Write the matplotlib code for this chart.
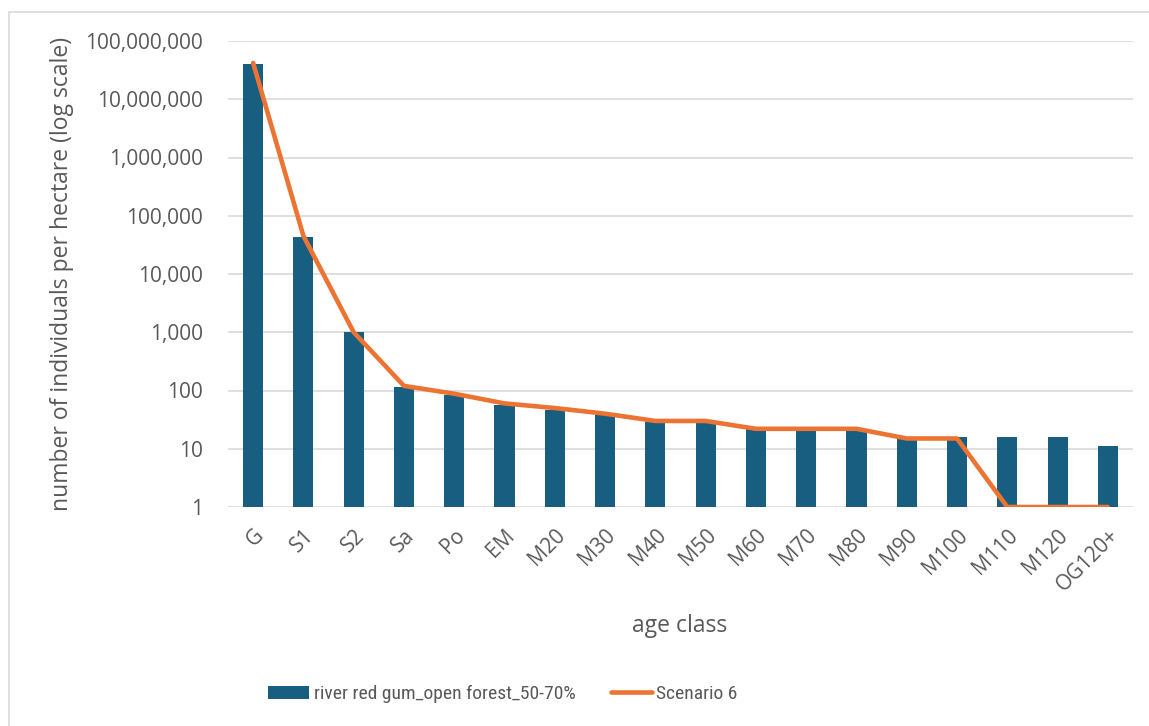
import matplotlib
matplotlib.use("Agg")
import matplotlib.pyplot as plt
from matplotlib import font_manager
from matplotlib.patches import Rectangle
from matplotlib.ticker import FuncFormatter, NullLocator

age_classes = ["G", "S1", "S2", "Sa", "Po", "EM", "M20", "M30", "M40", "M50",
               "M60", "M70", "M80", "M90", "M100", "M110", "M120", "OG120+"]
density = [40000000, 44000, 1000, 116, 82, 56, 45, 37, 28, 28,
           21, 21, 21, 15, 15, 15, 15, 10]
scenario_6 = [42000000, 45000, 1000, 120, 88, 60, 50, 40, 30, 30,
              22, 22, 22, 15, 15, 1, 1, 1]
y_ticks = [1, 10, 100, 1000, 10000, 100000, 1000000, 10000000, 100000000]

BAR_COLOR = "#175e80"
LINE_COLOR = "#ec7332"
TEXT_COLOR = "#595959"
GRID_COLOR = "#d9d9d9"
BASE_FONT = ["Open Sans", "DejaVu Sans"]

installed = {f.name for f in font_manager.fontManager.ttflist}
narrow_choices = ["Liberation Sans Narrow", "DejaVu Sans Condensed", "Roboto Condensed",
                  "Open Sans Condensed", "Noto Sans Condensed"]
narrow = [n for n in narrow_choices if n in installed]
LEGEND_FONT = (narrow[:1] or ["Roboto"]) + ["DejaVu Sans"]
LEGEND_SIZE = 14 if narrow else 13.2

plt.rcParams["font.family"] = BASE_FONT

fig = plt.figure(figsize=(11.49, 7.26), dpi=100)
fig.patches.append(Rectangle((9 / 1149, -0.01), 1.02, 1 - 12 / 726 + 0.01,
                             transform=fig.transFigure, fill=False,
                             edgecolor=GRID_COLOR, linewidth=1.2))

ax = fig.add_axes([228 / 1149, 1 - 507 / 726, (1133 - 228) / 1149, (507 - 41) / 726])
x = list(range(len(age_classes)))

ax.set_yscale("log")
ax.set_ylim(1, 1e8)
ax.set_xlim(-0.5, len(age_classes) - 0.5)

bars = ax.bar(x, density, width=0.4, bottom=1, color=BAR_COLOR, zorder=2,
              label="river red gum_open forest_50-70%")
line, = ax.plot(x, scenario_6, color=LINE_COLOR, linewidth=3.3, solid_capstyle="round",
                solid_joinstyle="round", zorder=3, label="Scenario 6")

ax.set_yticks(y_ticks)
ax.yaxis.set_minor_locator(NullLocator())
ax.yaxis.set_major_formatter(FuncFormatter(lambda v, _: f"{int(round(v)):,}"))
ax.grid(axis="y", color=GRID_COLOR, linewidth=1.2, zorder=0)
ax.set_axisbelow(True)

ax.set_xticks(x)
ax.set_xticklabels(age_classes, rotation=45, ha="right", va="top",
                   rotation_mode="anchor")
ax.tick_params(axis="both", length=0, colors=TEXT_COLOR, labelsize=15)
ax.tick_params(axis="x", pad=13)
ax.tick_params(axis="y", pad=18)
for spine in ax.spines.values():
    spine.set_visible(False)

fig.text(62 / 1149, 1 - 274 / 726, "number of individuals per hectare (log scale)",
         color=TEXT_COLOR, fontsize=16.5, rotation=90, ha="center", va="center")
fig.text(680 / 1149, 1 - 626 / 726, "age class", color=TEXT_COLOR,
         fontsize=16.5, ha="center", va="center")

leg = fig.legend([bars, line], [bars.get_label(), line.get_label()], loc="center",
                 bbox_to_anchor=(503 / 1149, 1 - 694 / 726),
                 ncol=2, frameon=False, handlelength=2.1, handleheight=0.65,
                 columnspacing=1.8, handletextpad=0.25,
                 prop={"family": LEGEND_FONT, "size": LEGEND_SIZE})
for t in leg.get_texts():
    t.set_color(TEXT_COLOR)

fig.savefig("out.png", dpi=100, facecolor="white")
